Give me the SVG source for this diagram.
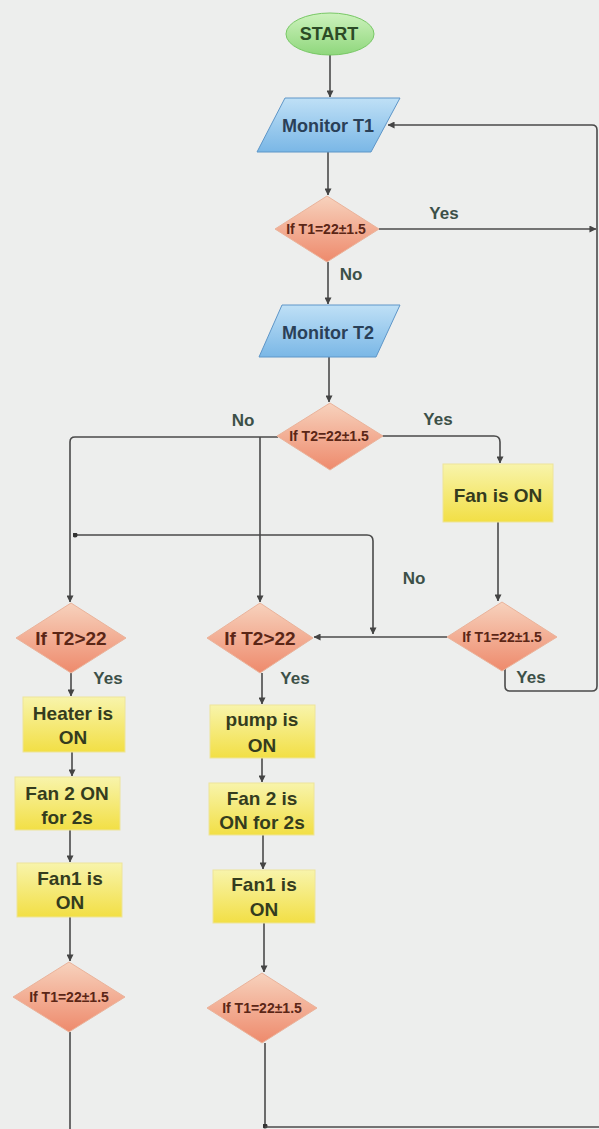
<svg xmlns="http://www.w3.org/2000/svg" width="599" height="1129" viewBox="0 0 599 1129">
<defs>
<linearGradient id="gGreen" x1="0" y1="0" x2="0" y2="1"><stop offset="0" stop-color="#cdf2bd"/><stop offset="1" stop-color="#8fd77c"/></linearGradient>
<linearGradient id="gBlue" x1="0" y1="0" x2="0" y2="1"><stop offset="0" stop-color="#bfe0f6"/><stop offset="1" stop-color="#7ab7e6"/></linearGradient>
<linearGradient id="gRed" x1="0" y1="0" x2="0" y2="1"><stop offset="0" stop-color="#f7d2bd"/><stop offset="1" stop-color="#ee8a6c"/></linearGradient>
<linearGradient id="gYel" x1="0" y1="0" x2="0" y2="1"><stop offset="0" stop-color="#f8f4ab"/><stop offset="1" stop-color="#f2df45"/></linearGradient>
<marker id="arr" viewBox="0 0 8 8" refX="7.5" refY="4" markerWidth="7" markerHeight="7" markerUnits="userSpaceOnUse" orient="auto"><path d="M0,0 L8,4 L0,8 z" fill="#444"/></marker>
<marker id="dot" viewBox="0 0 6 6" refX="3" refY="3" markerWidth="5" markerHeight="5" markerUnits="userSpaceOnUse"><circle cx="3" cy="3" r="3" fill="#333"/></marker>
</defs>
<style>
.c{fill:none;stroke:#4a4a4a;stroke-width:1.6}
.t{font-family:"Liberation Sans",Arial,sans-serif;text-anchor:middle;font-weight:bold}
.bx{font-size:19px;fill:#343c1e}
.dt{font-size:14px;fill:#5b2616}
.dg{font-size:19px;fill:#5b2616}
.lbl{font-family:"Liberation Sans",Arial,sans-serif;font-size:17px;font-weight:bold;fill:#3c5048;text-anchor:middle}
.dia{fill:url(#gRed);stroke:#eab39b;stroke-width:1}
.box{fill:url(#gYel);stroke:#eee49a;stroke-width:1}
.io{fill:url(#gBlue);stroke:#5e96c8;stroke-width:1}
</style>
<rect width="599" height="1129" fill="#edeeed"/>

<g id="connectors">
<path class="c" d="M330,55 V97" marker-end="url(#arr)"/>
<path class="c" d="M328,152 V195" marker-end="url(#arr)"/>
<path class="c" d="M379,229 H596" marker-end="url(#arr)"/>
<path class="c" d="M328,262 V304" marker-end="url(#arr)"/>
<path class="c" d="M329,357 V402" marker-end="url(#arr)"/>
<path class="c" d="M382,436 H494 Q500,436 500,442 V463" marker-end="url(#arr)"/>
<path class="c" d="M278,437 H75 Q70,437 70,442 V602" marker-end="url(#arr)"/>
<path class="c" d="M260,437 V602" marker-end="url(#arr)"/>
<path class="c" d="M75,535 H367 Q373,535 373,541 V634" marker-start="url(#dot)" marker-end="url(#arr)"/>
<path class="c" d="M447,637 H314" marker-end="url(#arr)"/>
<path class="c" d="M498,522 V601" marker-end="url(#arr)"/>
<path class="c" d="M505,668 V686 Q505,691 510,691 H592 Q597,691 597,686 V130 Q597,125 592,125 H388" marker-end="url(#arr)"/>
<path class="c" d="M71,673 V696" marker-end="url(#arr)"/>
<path class="c" d="M72,752 V776" marker-end="url(#arr)"/>
<path class="c" d="M70,830 V862" marker-end="url(#arr)"/>
<path class="c" d="M70,917 V961" marker-end="url(#arr)"/>
<path class="c" d="M70,1032 V1129"/>
<path class="c" d="M262,673 V704" marker-end="url(#arr)"/>
<path class="c" d="M262,758 V782" marker-end="url(#arr)"/>
<path class="c" d="M263,835 V869" marker-end="url(#arr)"/>
<path class="c" d="M264,923 V972" marker-end="url(#arr)"/>
<path class="c" d="M265,1043 V1126" marker-end="url(#dot)"/>
<path class="c" d="M265,1127 H599"/>
<text class="lbl" x="444" y="219">Yes</text>
<text class="lbl" x="351" y="280">No</text>
<text class="lbl" x="243" y="426">No</text>
<text class="lbl" x="438" y="425">Yes</text>
<text class="lbl" x="414" y="584">No</text>
<text class="lbl" x="108" y="684">Yes</text>
<text class="lbl" x="295" y="684">Yes</text>
<text class="lbl" x="531" y="683">Yes</text>
</g>

<g id="start">
<ellipse cx="330" cy="34" rx="44" ry="21" fill="url(#gGreen)" stroke="#78c865" stroke-width="1"/>
<text class="t" x="329" y="40" font-size="18" fill="#2c4a26">START</text>
</g>

<g id="monitorT1">
<polygon class="io" points="285,98 400,98 371,152 257,152"/>
<text class="t" x="328" y="132" font-size="18" fill="#2a4058">Monitor T1</text>
</g>

<g id="decisionT1">
<polygon class="dia" points="327,196 379,229 327,262 275,229"/>
<text class="t dt" x="326" y="234">If T1=22±1.5</text>
</g>

<g id="monitorT2">
<polygon class="io" points="282,305 400,305 376,357 259,357"/>
<text class="t" x="328" y="339" font-size="18" fill="#2a4058">Monitor T2</text>
</g>

<g id="decisionT2">
<polygon class="dia" points="330,403 383,436 330,470 277,436"/>
<text class="t dt" x="329" y="441">If T2=22±1.5</text>
</g>

<g id="fanOn">
<rect class="box" x="443" y="464" width="110" height="58"/>
<text class="t bx" x="498" y="502">Fan is ON</text>
</g>

<g id="decisionT1b">
<polygon class="dia" points="502,602 557,637 502,671 447,637"/>
<text class="t dt" x="502" y="642">If T1=22±1.5</text>
</g>

<g id="leftT2gt22">
<polygon class="dia" points="71,603 126,638 71,673 16,638"/>
<text class="t dg" x="71" y="645">If T2&gt;22</text>
</g>

<g id="midT2gt22">
<polygon class="dia" points="260,603 313,638 260,673 207,638"/>
<text class="t dg" x="260" y="645">If T2&gt;22</text>
</g>

<g id="heaterOn">
<rect class="box" x="23" y="697" width="102" height="55"/>
<text class="t bx" x="73" y="720">Heater is</text>
<text class="t bx" x="73" y="744">ON</text>
</g>

<g id="fan2On2s">
<rect class="box" x="15" y="777" width="105" height="53"/>
<text class="t bx" x="67" y="800">Fan 2 ON</text>
<text class="t bx" x="67" y="824">for 2s</text>
</g>

<g id="fan1OnLeft">
<rect class="box" x="17" y="863" width="105" height="54"/>
<text class="t bx" x="70" y="885">Fan1 is</text>
<text class="t bx" x="70" y="909">ON</text>
</g>

<g id="leftT1check">
<polygon class="dia" points="69,962 125,997 69,1032 13,997"/>
<text class="t dt" x="69" y="1002">If T1=22±1.5</text>
</g>

<g id="pumpOn">
<rect class="box" x="210" y="705" width="105" height="53"/>
<text class="t bx" x="262" y="726">pump is</text>
<text class="t bx" x="262" y="752">ON</text>
</g>

<g id="fan2IsOn2s">
<rect class="box" x="209" y="783" width="105" height="52"/>
<text class="t bx" x="262" y="805">Fan 2 is</text>
<text class="t bx" x="262" y="829">ON for 2s</text>
</g>

<g id="fan1OnMid">
<rect class="box" x="213" y="870" width="102" height="53"/>
<text class="t bx" x="264" y="891">Fan1 is</text>
<text class="t bx" x="264" y="916">ON</text>
</g>

<g id="midT1check">
<polygon class="dia" points="262,973 317,1008 262,1043 207,1008"/>
<text class="t dt" x="262" y="1013">If T1=22±1.5</text>
</g>
</svg>
